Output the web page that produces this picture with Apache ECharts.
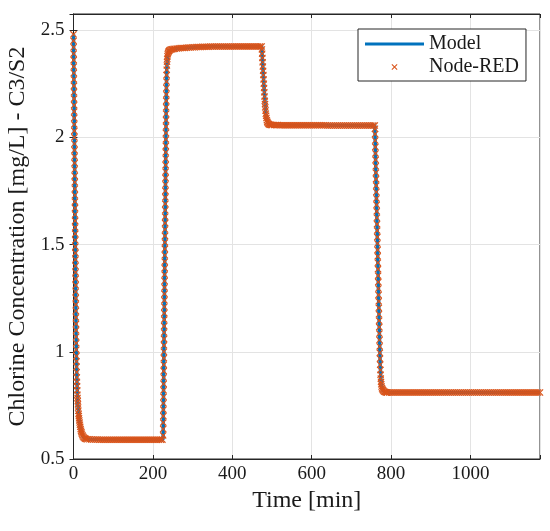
<!DOCTYPE html>
<html lang="en">
<head>
    <meta charset="UTF-8">
    <title>Chlorine C3/S2</title>
    <script src="https://cdn.jsdelivr.net/npm/echarts@6/dist/echarts.min.js"></script>
    <style>
        html, body { margin: 0; padding: 0; background: #fff; }
    </style>
</head>
<body>
    <div id="main" style="width:550px;height:531px;"></div>
</body>
<script type="text/javascript">
    // axis ticks
    var xTicks = [0, 200, 400, 600, 800, 1000];
    var yTicks = [0.5, 1, 1.5, 2, 2.5];

    // Model (line)
    var modelTime = [0, 3, 6.6, 7.7, 9, 11, 14, 18, 24, 33, 225, 225.8, 230, 233.6, 234.8, 236.7, 240.5, 252, 300, 350, 474, 480, 484.4, 487, 490.5, 498, 759, 765.2, 770.8, 772.5, 774.6, 777, 781, 789, 1175];
    var modelConc = [2.48, 1.85, 1.07, 0.93, 0.84, 0.755, 0.69, 0.64, 0.605, 0.592, 0.59, 0.61, 1.45, 2.17, 2.315, 2.378, 2.403, 2.412, 2.42, 2.423, 2.424, 2.23, 2.11, 2.08, 2.064, 2.057, 2.055, 1.535, 1.055, 0.94, 0.86, 0.83, 0.817, 0.81, 0.81];

    // Node-RED samples [time, conc], split by phase
    var nrDrop1 = [[0,2.48],[0.14,2.45],[0.28,2.42],[0.42,2.39],[0.56,2.36],[0.7,2.33],[0.84,2.3],[0.98,2.27],[1.12,2.24],[1.26,2.21],[1.4,2.18],[1.54,2.15],[1.68,2.12],[1.82,2.09],[1.96,2.06],[2.1,2.03],[2.24,2.0],[2.38,1.97],[2.52,1.94],[2.66,1.91],[2.8,1.88],[2.94,1.85],[3.08,1.82],[3.22,1.79],[3.36,1.76],[3.5,1.73],[3.64,1.7],[3.78,1.67],[3.92,1.64],[4.06,1.61],[4.2,1.58],[4.34,1.55],[4.48,1.52],[4.62,1.49],[4.76,1.46],[4.9,1.43],[5.04,1.4],[5.18,1.37],[5.32,1.34],[5.46,1.31],[5.6,1.28],[5.74,1.25],[5.88,1.22],[6.02,1.19],[6.16,1.16],[6.3,1.13],[6.44,1.1],[6.6,1.07],[6.8,1.04],[7.0,1.01],[7.2,0.98],[7.45,0.955],[7.7,0.93],[8.0,0.905],[8.3,0.88],[8.6,0.86],[9.0,0.84],[9.4,0.82],[9.8,0.8],[10.2,0.785],[10.7,0.77],[11.2,0.755],[11.7,0.74],[12.2,0.725],[12.8,0.71],[13.4,0.7],[14,0.69],[14.7,0.68],[15.4,0.67],[16.2,0.66],[17,0.65],[18,0.64],[19,0.632],[20,0.625],[21,0.618],[22.5,0.611],[24,0.605],[26,0.6],[28,0.597],[30,0.595],[32,0.593]];
    var nrLow = [[35,0.592],[40,0.592],[45,0.591],[50,0.591],[55,0.591],[60,0.591],[65,0.59],[70,0.59],[75,0.59],[80,0.59],[85,0.59],[90,0.59],[95,0.59],[100,0.59],[105,0.59],[110,0.59],[115,0.59],[120,0.59],[125,0.59],[130,0.59],[135,0.59],[140,0.59],[145,0.59],[150,0.59],[155,0.59],[160,0.59],[165,0.59],[170,0.59],[175,0.59],[180,0.59],[185,0.59],[190,0.59],[195,0.59],[200,0.59],[205,0.59],[210,0.59],[215,0.59],[220,0.59],[224,0.59]];
    var nrRise = [[225.8,0.61],[225.95,0.64],[226.1,0.67],[226.25,0.7],[226.4,0.73],[226.55,0.76],[226.7,0.79],[226.85,0.82],[227,0.85],[227.15,0.88],[227.3,0.91],[227.45,0.94],[227.6,0.97],[227.75,1.0],[227.9,1.03],[228.05,1.06],[228.2,1.09],[228.35,1.12],[228.5,1.15],[228.65,1.18],[228.8,1.21],[228.95,1.24],[229.1,1.27],[229.25,1.3],[229.4,1.33],[229.55,1.36],[229.7,1.39],[229.85,1.42],[230,1.45],[230.15,1.48],[230.3,1.51],[230.45,1.54],[230.6,1.57],[230.75,1.6],[230.9,1.63],[231.05,1.66],[231.2,1.69],[231.35,1.72],[231.5,1.75],[231.65,1.78],[231.8,1.81],[231.95,1.84],[232.1,1.87],[232.25,1.9],[232.4,1.93],[232.55,1.96],[232.7,1.99],[232.85,2.02],[233,2.05],[233.15,2.08],[233.3,2.11],[233.45,2.14],[233.6,2.17],[233.8,2.2],[234,2.23],[234.25,2.26],[234.5,2.29],[234.8,2.315],[235.2,2.335],[235.6,2.352],[236.1,2.366],[236.7,2.378],[237.4,2.387],[238.2,2.394],[239.2,2.399],[240.5,2.403],[242,2.406],[244,2.408],[246.5,2.41],[249,2.411],[252,2.412]];
    var nrHigh = [[255,2.413],[260,2.414],[265,2.415],[270,2.416],[275,2.417],[280,2.417],[285,2.418],[290,2.419],[295,2.419],[300,2.42],[305,2.42],[310,2.421],[315,2.421],[320,2.421],[325,2.422],[330,2.422],[335,2.422],[340,2.422],[345,2.423],[350,2.423],[355,2.423],[360,2.423],[365,2.423],[370,2.423],[375,2.423],[380,2.423],[385,2.423],[390,2.423],[395,2.423],[400,2.424],[405,2.424],[410,2.424],[415,2.424],[420,2.424],[425,2.424],[430,2.424],[435,2.424],[440,2.424],[445,2.424],[450,2.424],[455,2.424],[460,2.424],[465,2.424],[470,2.424]];
    var nrDrop2 = [[474,2.424],[474.6,2.41],[475.2,2.39],[475.8,2.37],[476.4,2.35],[477,2.33],[477.6,2.31],[478.2,2.29],[478.8,2.27],[479.4,2.25],[480,2.23],[480.6,2.21],[481.2,2.19],[481.8,2.17],[482.4,2.155],[483,2.14],[483.7,2.125],[484.4,2.11],[485.2,2.1],[486,2.09],[487,2.08],[488,2.073],[489,2.068],[490.5,2.064],[492,2.061],[494,2.059],[496,2.058],[498,2.057]];
    var nrMid = [[500,2.057],[505,2.057],[510,2.057],[515,2.057],[520,2.056],[525,2.056],[530,2.056],[535,2.056],[540,2.056],[545,2.056],[550,2.056],[555,2.056],[560,2.056],[565,2.056],[570,2.056],[575,2.056],[580,2.056],[585,2.056],[590,2.056],[595,2.056],[600,2.056],[605,2.056],[610,2.056],[615,2.056],[620,2.056],[625,2.056],[630,2.056],[635,2.056],[640,2.055],[645,2.055],[650,2.055],[655,2.055],[660,2.055],[665,2.055],[670,2.055],[675,2.055],[680,2.055],[685,2.055],[690,2.055],[695,2.055],[700,2.055],[705,2.055],[710,2.055],[715,2.055],[720,2.055],[725,2.055],[730,2.055],[735,2.055],[740,2.055],[745,2.055],[750,2.055],[755,2.055]];
    var nrDrop3 = [[759,2.055],[759.3,2.04],[759.6,2.015],[759.95,1.985],[760.3,1.955],[760.65,1.925],[761,1.895],[761.35,1.865],[761.7,1.835],[762.05,1.805],[762.4,1.775],[762.75,1.745],[763.1,1.715],[763.45,1.685],[763.8,1.655],[764.15,1.625],[764.5,1.595],[764.85,1.565],[765.2,1.535],[765.55,1.505],[765.9,1.475],[766.25,1.445],[766.6,1.415],[766.95,1.385],[767.3,1.355],[767.65,1.325],[768,1.295],[768.35,1.265],[768.7,1.235],[769.05,1.205],[769.4,1.175],[769.75,1.145],[770.1,1.115],[770.45,1.085],[770.8,1.055],[771.2,1.025],[771.6,0.995],[772,0.968],[772.5,0.94],[773,0.915],[773.5,0.893],[774,0.875],[774.6,0.86],[775.2,0.848],[776,0.838],[777,0.83],[778,0.825],[779.5,0.82],[781,0.817],[783,0.814],[785,0.812],[787,0.811],[789,0.81]];
    var nrTail = [[790,0.81],[795,0.81],[800,0.81],[805,0.81],[810,0.81],[815,0.81],[820,0.81],[825,0.81],[830,0.81],[835,0.81],[840,0.81],[845,0.81],[850,0.81],[855,0.81],[860,0.81],[865,0.81],[870,0.81],[875,0.81],[880,0.81],[885,0.81],[890,0.81],[895,0.81],[900,0.81],[905,0.81],[910,0.81],[915,0.81],[920,0.81],[925,0.81],[930,0.81],[935,0.81],[940,0.81],[945,0.81],[950,0.81],[955,0.81],[960,0.81],[965,0.81],[970,0.81],[975,0.81],[980,0.81],[985,0.81],[990,0.81],[995,0.81],[1000,0.81],[1005,0.81],[1010,0.81],[1015,0.81],[1020,0.81],[1025,0.81],[1030,0.81],[1035,0.81],[1040,0.81],[1045,0.81],[1050,0.81],[1055,0.81],[1060,0.81],[1065,0.81],[1070,0.81],[1075,0.81],[1080,0.81],[1085,0.81],[1090,0.81],[1095,0.81],[1100,0.81],[1105,0.81],[1110,0.81],[1115,0.81],[1120,0.81],[1125,0.81],[1130,0.81],[1135,0.81],[1140,0.81],[1145,0.81],[1150,0.81],[1155,0.81],[1160,0.81],[1165,0.81],[1170,0.81],[1175,0.81]];

    var xMin = 0, xMax = 1175;
    var yMin = 0.5, yMax = 2.575;

    var modelData = [];
    for (var i = 0; i < modelTime.length; i++) {
        modelData.push([modelTime[i], modelConc[i]]);
    }
    var nodeRedData = [].concat(nrDrop1, nrLow, nrRise, nrHigh, nrDrop2, nrMid, nrDrop3, nrTail);

    var FONT = '"Liberation Serif", "Times New Roman", serif';
    var TXT = '#1a1a1a';
    var AXC = '#262626';
    // x marker, thin arms
    var crossPath = 'path://M0,1.2L1.2,0L5,3.8L8.8,0L10,1.2L6.2,5L10,8.8L8.8,10L5,6.2L1.2,10L0,8.8L3.8,5Z';
    var barPath = 'path://M0,0L59,0L59,3L0,3Z';

    function onTicks(list) {
        return function (v) {
            for (var k = 0; k < list.length; k++) {
                if (Math.abs(list[k] - v) < 1e-6) return String(list[k]);
            }
            return '';
        };
    }

    var myChart = echarts.init(document.getElementById('main'));
    var option = {
        animation: false,
        backgroundColor: '#fff',
        grid: {
            left: 73.5, right: 10, top: 14, bottom: 72,
            outerBoundsMode: 'none',
            show: true, borderColor: AXC, borderWidth: 1
        },
        legend: {
            data: [{ name: 'Model', icon: barPath }, { name: 'Node-RED', icon: crossPath }],
            orient: 'vertical',
            left: 358, top: 29,
            padding: [5, 7, 4, 7],
            itemWidth: 59, itemHeight: 6, itemGap: 3,
            backgroundColor: '#fff',
            borderColor: AXC, borderWidth: 1, borderRadius: 0,
            textStyle: { fontFamily: FONT, fontSize: 20, color: TXT }
        },
        xAxis: [{
            type: 'value', min: xMin, max: xMax, interval: 200,
            name: 'Time [min]', nameLocation: 'middle', nameGap: 27,
            nameTextStyle: { fontFamily: FONT, fontSize: 24, color: TXT },
            axisLine: { show: true, lineStyle: { color: AXC, width: 1 } },
            axisTick: { show: true, inside: true, length: 4, lineStyle: { color: AXC } },
            axisLabel: { fontFamily: FONT, fontSize: 19, color: TXT, margin: 6, formatter: onTicks(xTicks) },
            splitLine: { show: true, lineStyle: { color: '#e3e3e3', width: 1 } }
        }, {
            type: 'value', position: 'top', min: xMin, max: xMax, interval: 200,
            axisLine: { show: true, lineStyle: { color: AXC, width: 1 } },
            axisTick: { show: true, inside: true, length: 4, lineStyle: { color: AXC } },
            axisLabel: { show: false }, splitLine: { show: false }
        }],
        yAxis: [{
            type: 'value', min: yMin, max: yMax, interval: 0.5,
            name: 'Chlorine Concentration [mg/L] - C3/S2', nameLocation: 'middle', nameGap: 44,
            nameTextStyle: { fontFamily: FONT, fontSize: 24, color: TXT },
            axisLine: { show: true, lineStyle: { color: AXC, width: 1 } },
            axisTick: { show: true, inside: true, length: 4, lineStyle: { color: AXC } },
            axisLabel: { fontFamily: FONT, fontSize: 19, color: TXT, margin: 9, formatter: onTicks(yTicks) },
            splitLine: { show: true, lineStyle: { color: '#e3e3e3', width: 1 } }
        }, {
            type: 'value', position: 'right', min: yMin, max: yMax, interval: 0.5,
            axisLine: { show: true, lineStyle: { color: AXC, width: 1 } },
            axisTick: { show: true, inside: true, length: 4, lineStyle: { color: AXC } },
            axisLabel: { show: false }, splitLine: { show: false }
        }],
        series: [{
            name: 'Model',
            type: 'line',
            z: 2,
            data: modelData,
            showSymbol: false,
            symbol: 'none',
            color: '#0072BD',
            itemStyle: { color: '#0072BD' },
            lineStyle: { color: '#0072BD', width: 3.5 }
        }, {
            name: 'Node-RED',
            type: 'scatter',
            z: 5,
            data: nodeRedData,
            symbol: crossPath,
            symbolSize: 7,
            color: '#D95319',
            itemStyle: { color: '#D95319', opacity: 1 }
        }]
    };
    myChart.setOption(option);
</script>
</html>
